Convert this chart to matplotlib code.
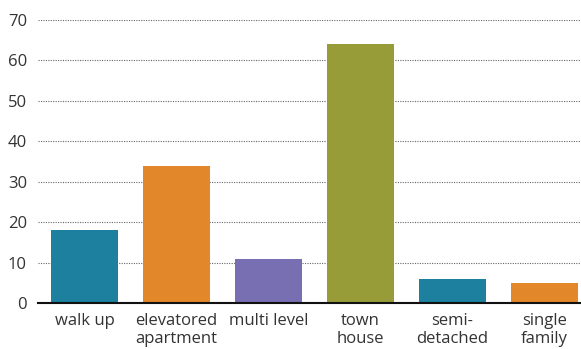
import matplotlib.pyplot as plt

# housing types and their shares
categories = ["walk up", "elevatored\napartment", "multi level", "town\nhouse", "semi-\ndetached", "single\nfamily"]
values = [18, 34, 11, 64, 6, 5]
colors = ["#1d809f", "#e2882a", "#786eb2", "#979c38", "#1d809f", "#e2882a"]
yticks = [0, 10, 20, 30, 40, 50, 60, 70]

plt.rcParams['font.family'] = ['Open Sans', 'DejaVu Sans']

fig = plt.figure(figsize=(5.81, 3.49), dpi=100)
ax = fig.add_axes([38 / 581, 46 / 349, 1 - 38 / 581, 283 / 349])

x = range(len(categories))
ax.bar(x, values, width=0.73, color=colors, zorder=3)

ax.set_xlim(-0.505, 5.4)
ax.set_ylim(0, 70)
ax.set_yticks(yticks)
ax.set_xticks(list(x))
ax.set_xticklabels(categories, fontsize=12, color="#333333", linespacing=1.2)
ax.tick_params(axis="y", labelsize=12, labelcolor="#333333", length=0, pad=8)
ax.tick_params(axis="x", length=0, pad=7)

ax.yaxis.grid(True, linestyle=(0, (1, 1.2)), color="#666666", linewidth=0.8, zorder=0)
for s in ["top", "right", "left"]:
    ax.spines[s].set_visible(False)
ax.spines["bottom"].set_linewidth(1.5)
ax.spines["bottom"].set_color("#111111")
ax.spines["bottom"].set_zorder(4)

fig.savefig("out.png", dpi=100)
